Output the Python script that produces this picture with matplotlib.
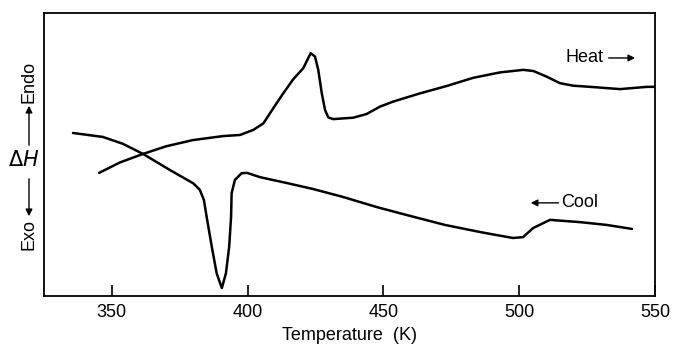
import numpy as np
import matplotlib
matplotlib.use("Agg")
import matplotlib.pyplot as plt

# DSC curve, heating (K, arbitrary dH units)
heat_T = [345.3, 353.0, 361.5, 370.0, 379.9, 390.9, 397.2, 402.1, 405.8, 409.4,
          413.1, 416.8, 420.5, 423.2, 424.8, 426.0, 427.3, 428.5, 429.7, 431.5,
          438.9, 443.8, 448.7, 453.6, 463.5, 473.3, 483.1, 492.9, 501.5, 505.2,
          510.1, 515.0, 519.9, 526.1, 537.1, 547.1, 550.0]
heat_H = [43.5, 47.2, 50.2, 52.9, 55.1, 56.5, 56.9, 58.7, 61.0, 66.3,
          71.6, 76.6, 80.5, 85.8, 84.6, 79.9, 71.6, 65.7, 63.1, 62.5,
          63.0, 64.3, 66.9, 68.7, 71.6, 74.2, 77.1, 79.0, 79.9, 79.5,
          77.5, 75.2, 74.3, 73.9, 73.1, 73.9, 73.9]

# cooling
cool_T = [335.7, 346.7, 354.0, 361.5, 371.4, 380.0, 382.4, 383.9, 384.9, 386.8,
          388.6, 390.5, 392.0, 393.2, 393.9, 394.1, 395.3, 397.8, 399.8, 404.5,
          414.5, 424.1, 435.1, 447.6, 459.8, 472.7, 485.6, 493.0, 497.7, 501.4,
          505.1, 511.3, 522.4, 532.3, 541.5]
cool_H = [57.6, 56.2, 53.8, 50.2, 44.5, 39.8, 37.5, 33.9, 28.0, 17.4,
          8.0, 2.8, 8.0, 17.4, 28.0, 36.3, 41.0, 43.4, 43.5, 42.0,
          39.9, 37.8, 35.0, 31.4, 28.3, 25.1, 22.6, 21.3, 20.5, 20.8,
          24.0, 26.9, 26.1, 25.1, 23.7]

xticks = [350, 400, 450, 500, 550]

plt.rcParams['font.family'] = ['Liberation Sans', 'DejaVu Sans']

fig = plt.figure(figsize=(6.76, 3.46), dpi=100)
ax = fig.add_axes([0.065, 0.1445, 0.904, 0.818])

ax.plot(heat_T, heat_H, color='black', lw=1.8, solid_joinstyle='round', solid_capstyle='round')
ax.plot(cool_T, cool_H, color='black', lw=1.8, solid_joinstyle='round', solid_capstyle='round')

ax.set_xlim(325, 550)
ax.set_ylim(0, 100)
ax.set_xticks(xticks)
ax.set_yticks([])
ax.tick_params(axis='x', direction='in', length=8, width=1.2, labelsize=13, pad=6)
for s in ax.spines.values():
    s.set_linewidth(1.3)
ax.set_xlabel("Temperature  (K)", fontsize=13, labelpad=4)

# curve labels
ax.text(517.0, 84.1, "Heat", fontsize=13, va='center', ha='left')
ax.annotate('', xy=(543.7, 84.1), xytext=(531.9, 84.1),
            arrowprops=dict(arrowstyle='-|>', color='black', lw=1.0, mutation_scale=10))
ax.text(515.5, 32.9, "Cool", fontsize=13, va='center', ha='left')
ax.annotate('', xy=(503.2, 32.9), xytext=(515.5, 32.9),
            arrowprops=dict(arrowstyle='-|>', color='black', lw=1.0, mutation_scale=10))

# y axis legend (Endo / dH / Exo)
H = 346
fig.text(29 / 676, 1 - 82 / H, "Endo", rotation=90, fontsize=13, ha='center', va='center')
fig.text(24 / 676, 1 - 160 / H, r"$\Delta H$", fontsize=15, ha='center', va='center')
fig.text(29 / 676, 1 - 235 / H, "Exo", rotation=90, fontsize=13, ha='center', va='center')
ax.annotate('', xy=(29, H - 103), xytext=(29, H - 148), xycoords='figure pixels',
            textcoords='figure pixels',
            arrowprops=dict(arrowstyle='-|>', color='black', lw=1.0, mutation_scale=10))
ax.annotate('', xy=(29, H - 219), xytext=(29, H - 176), xycoords='figure pixels',
            textcoords='figure pixels',
            arrowprops=dict(arrowstyle='-|>', color='black', lw=1.0, mutation_scale=10))

fig.savefig("out.png", dpi=100)
